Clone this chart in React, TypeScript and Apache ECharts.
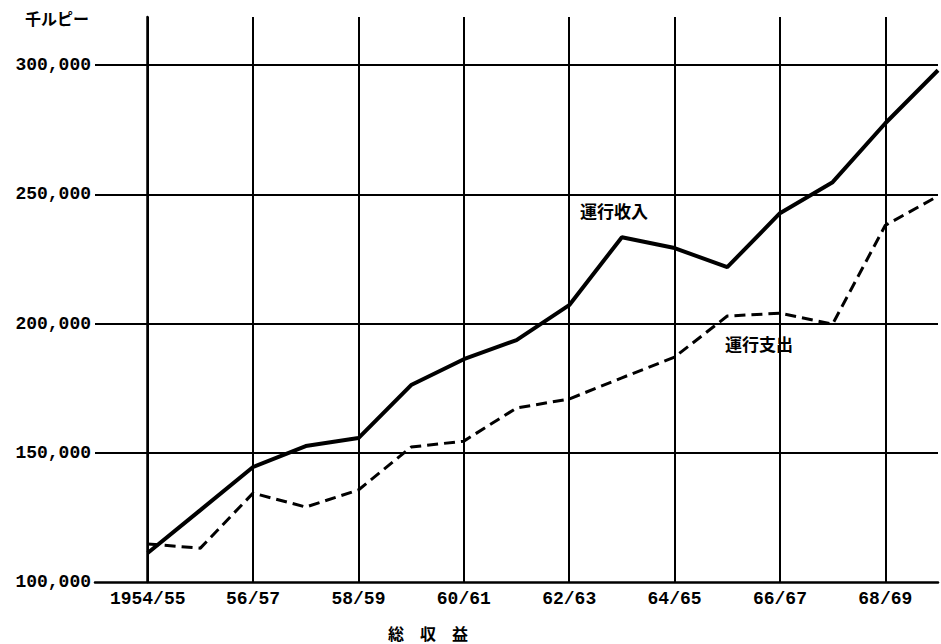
import React, { useEffect, useRef } from "react";
import * as echarts from "echarts";

// Fiscal years, index 0 = 1954/55
const years = [
  "1954/55", "55/56", "56/57", "57/58", "58/59", "59/60", "60/61", "61/62",
  "62/63", "63/64", "64/65", "65/66", "66/67", "67/68", "68/69", "69/70",
];

// 運行収入 (operating revenue), thousand rupees
const revenue = [
  111200, 127800, 144500, 152600, 155700, 176200, 186200, 193600,
  207100, 233400, 229200, 221800, 242700, 254700, 277500, 298000,
];

// 運行支出 (operating expenditure), thousand rupees
const expense = [
  114700, 113100, 134400, 129000, 135600, 152200, 154500, 167300,
  170800, 179000, 187000, 202900, 204000, 199800, 238000, 249300,
];

// Labelled ticks on the year axis (every other year)
const xTickIdx = [0, 2, 4, 6, 8, 10, 12, 14];
const xTickLabels = ["1954/55", "56/57", "58/59", "60/61", "62/63", "64/65", "66/67", "68/69"];

// Horizontal reference lines
const yGridValues = [150000, 200000, 250000, 300000];

const numFont = "'Liberation Mono', 'DejaVu Sans Mono', monospace";
const jpFont = "'Noto Sans CJK JP', 'Noto Sans CJK SC', sans-serif";

export default function App() {
  const ref = useRef<HTMLDivElement>(null);

  useEffect(() => {
    if (!ref.current) return;
    const chart = echarts.init(ref.current, null, { renderer: "svg" });

    const fmt = (v: number) => {
      const s = String(Math.round(v));
      return s.slice(0, s.length - 3) + "," + s.slice(s.length - 3);
    };

    chart.setOption({
      animation: false,
      backgroundColor: "#ffffff",
      grid: { left: 95, top: 17, bottom: 62, right: -7, containLabel: false },
      xAxis: {
        type: "value",
        min: -1,
        max: 15,
        interval: 1,
        axisLine: { show: true, lineStyle: { color: "#000", width: 2.5 } },
        axisTick: { show: false },
        splitLine: { show: false },
        axisLabel: {
          margin: 8,
          color: "#000",
          fontFamily: numFont,
          fontWeight: "bold",
          fontSize: 18,
          formatter: (v: number) => {
            const k = xTickIdx.indexOf(v);
            return k >= 0 ? xTickLabels[k] : "";
          },
        },
      },
      yAxis: {
        type: "value",
        min: 100000,
        max: 318600,
        interval: 50000,
        axisLine: { show: true, lineStyle: { color: "#000", width: 2.5 } },
        axisTick: { show: false },
        splitLine: { show: false },
        axisLabel: {
          margin: 4,
          color: "#000",
          fontFamily: numFont,
          fontWeight: "bold",
          fontSize: 18,
          showMaxLabel: false,
          formatter: (v: number) => (v % 50000 === 0 ? fmt(v) : ""),
        },
      },
      series: [
        {
          name: "運行收入",
          type: "line",
          data: revenue.map((v, i) => [i, v]),
          symbol: "none",
          clip: true,
          lineStyle: { color: "#000", width: 4 },
          z: 3,
          markLine: {
            silent: true,
            symbol: ["none", "none"],
            label: { show: false },
            lineStyle: { color: "#000", width: 2, type: "solid" },
            data: [
              ...xTickIdx.map((x) => ({ xAxis: x })),
              ...yGridValues.map((y) => ({ yAxis: y })),
            ],
          },
        },
        {
          name: "運行支出",
          type: "line",
          data: expense.map((v, i) => [i, v]),
          symbol: "none",
          clip: true,
          lineStyle: { color: "#000", width: 3, type: [11, 6] },
          z: 3,
        },
      ],
      graphic: [
        {
          type: "text",
          left: 25,
          top: 10,
          style: { text: "千ルピー", font: `bold 16px ${jpFont}`, fill: "#000" },
        },
        {
          type: "text",
          left: 580,
          top: 202,
          style: { text: "運行收入", font: `bold 17px ${jpFont}`, fill: "#000" },
        },
        {
          type: "text",
          left: 725,
          top: 335,
          style: { text: "運行支出", font: `bold 17px ${jpFont}`, fill: "#000" },
        },
        {
          type: "text",
          left: 388,
          top: 625,
          style: { text: "総　収　益", font: `bold 16px ${jpFont}`, fill: "#000" },
        },
      ],
    });

    return () => chart.dispose();
  }, []);

  return (
    <div
      ref={ref}
      style={{ position: "fixed", left: 0, top: 0, width: 941, height: 644, background: "#fff" }}
    />
  );
}
